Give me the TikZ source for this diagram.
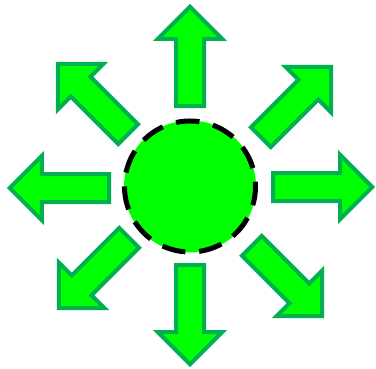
\documentclass[tikz,border=0pt]{standalone}
\usepackage{tikz}
\definecolor{arrowfill}{HTML}{00FF00}
\definecolor{arrowline}{HTML}{00B050}
\tikzset{
  bigarrow/.style={fill=arrowfill, draw=arrowline, line width=4pt, line join=miter},
  hubdisc/.style={fill=arrowfill},
  hubring/.style={draw=black, line width=5pt, dash pattern=on 23.5pt off 13.9pt}
}
\newcommand{\myarrow}[3]{%
  \begin{scope}[shift={(#1,#2)}, rotate=#3]
    \path[bigarrow] (-2.8,0) -- (-34.8,32) -- (-34.8,14) -- (-102,14) -- (-102,-14) -- (-34.8,-14) -- (-34.8,-32) -- cycle;
  \end{scope}}
\begin{document}
\begin{tikzpicture}[x=1pt,y=1pt]
\useasboundingbox (0,0) rectangle (376,368);
\myarrow{190}{364}{90}
\myarrow{190}{1}{-90}
\myarrow{7}{180}{180}
\myarrow{375}{181}{0}
\myarrow{333}{303}{45}
\myarrow{56}{306}{135}
\myarrow{57}{58}{-135}
\myarrow{324}{50}{-45}
\path[hubdisc] (190,181.5) circle (66);
\draw[hubring] ([shift={(-16.4:65.5)}]190,181.5) arc[start angle=-16.4, end angle=343.6, radius=65.5];
\end{tikzpicture}
\end{document}
